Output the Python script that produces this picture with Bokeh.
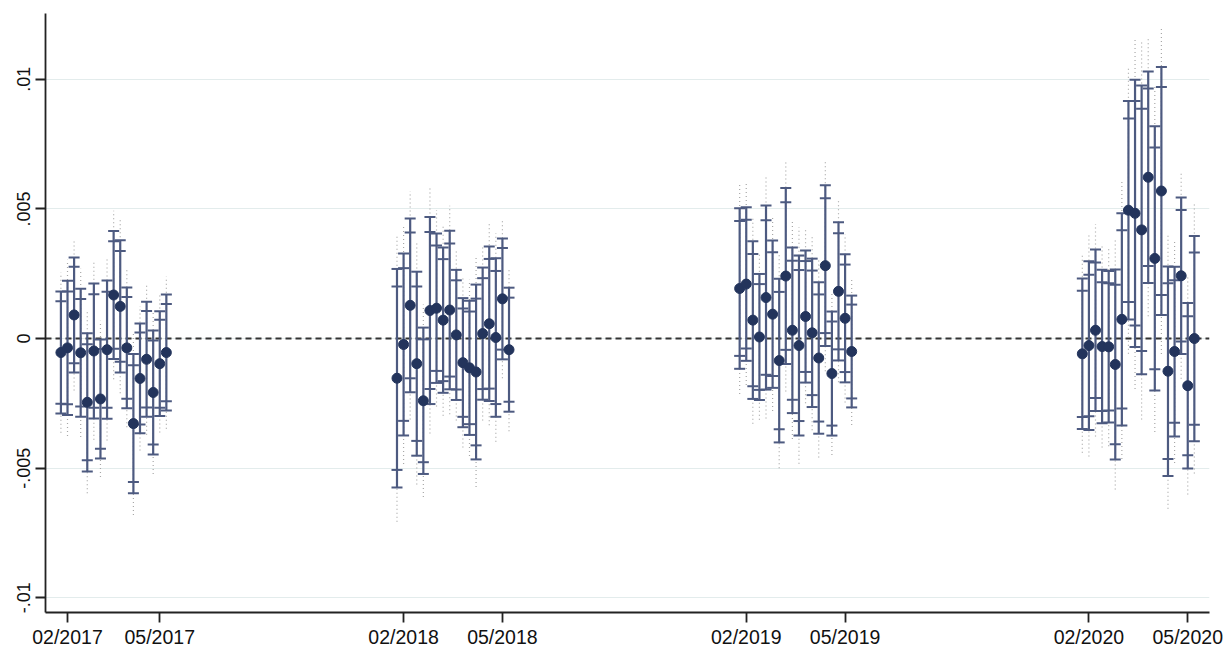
from bokeh.plotting import figure
from bokeh.models import ColumnDataSource, FixedTicker, Span, Range1d
from bokeh.embed import file_html
from bokeh.resources import INLINE

# ---------------- data ----------------
# x = week index counted from 2017 (52 weeks per year): (year-2017)*52 + week-of-year
years = [2017, 2018, 2019, 2020]
weeks_2017 = [5, 6, 7, 8, 9, 10, 11, 12, 13, 14, 15, 16, 17, 18, 19, 20, 21]
weeks_2018 = [4, 5, 6, 7, 8, 9, 10, 11, 12, 13, 14, 15, 16, 17, 18, 19, 20, 21]
weeks_2019 = [4, 5, 6, 7, 8, 9, 10, 11, 12, 13, 14, 15, 16, 17, 18, 19, 20, 21]
weeks_2020 = [4, 5, 6, 7, 8, 9, 10, 11, 12, 13, 14, 15, 16, 17, 18, 19, 20, 21]

coef_2017 = [-0.00054, -0.00036, 0.00091, -0.00055, -0.00246, -0.00048, -0.00233, -0.00043, 0.00168,
             0.00124, -0.00036, -0.00328, -0.00154, -0.00080, -0.00208, -0.00097, -0.00054]
se_2017 = [0.00120, 0.00132, 0.00113, 0.00126, 0.00136, 0.00133, 0.00117, 0.00136, 0.00126,
           0.00130, 0.00119, 0.00137, 0.00108, 0.00113, 0.00122, 0.00103, 0.00114]

coef_2018 = [-0.00153, -0.00023, 0.00128, -0.00097, -0.00240, 0.00108, 0.00117, 0.00071, 0.00110,
             0.00014, -0.00093, -0.00113, -0.00129, 0.00019, 0.00057, 0.00004, 0.00153, -0.00043]
se_2018 = [0.00215, 0.00179, 0.00171, 0.00181, 0.00144, 0.00184, 0.00147, 0.00143, 0.00156,
           0.00128, 0.00127, 0.00132, 0.00172, 0.00130, 0.00152, 0.00156, 0.00119, 0.00122]

coef_2019 = [0.00193, 0.00210, 0.00071, 0.00006, 0.00158, 0.00094, -0.00085, 0.00241, 0.00032,
             -0.00027, 0.00085, 0.00022, -0.00075, 0.00281, -0.00135, 0.00182, 0.00078, -0.00050]
se_2019 = [0.00158, 0.00151, 0.00155, 0.00124, 0.00181, 0.00145, 0.00161, 0.00173, 0.00163,
           0.00177, 0.00130, 0.00146, 0.00149, 0.00158, 0.00122, 0.00136, 0.00126, 0.00110]

coef_2020 = [-0.00059, -0.00027, 0.00032, -0.00031, -0.00032, -0.00100, 0.00074, 0.00495, 0.00483,
             0.00419, 0.00622, 0.00309, 0.00569, -0.00126, -0.00050, 0.00242, -0.00182, 0.00000]
se_2020 = [0.00148, 0.00166, 0.00159, 0.00151, 0.00149, 0.00187, 0.00209, 0.00215, 0.00263,
           0.00284, 0.00208, 0.00260, 0.00244, 0.00206, 0.00167, 0.00154, 0.00163, 0.00202]

x_tick_weeks = [6, 20, 57, 72, 109, 124, 161, 176]
x_tick_labels = ["02/2017", "05/2017", "02/2018", "05/2018", "02/2019", "05/2019", "02/2020", "05/2020"]
y_ticks = [-0.01, -0.005, 0.0, 0.005, 0.01]
y_tick_labels = ["-.01", "-.005", "0", ".005", ".01"]

# confidence levels: 90% and 95% capped, 99% dotted
z90, z95, z99 = 1.645, 1.96, 2.576

# ---------------- build source ----------------
xs, cs, ss = [], [], []
for yr, wk, cf, se in zip(years,
                          [weeks_2017, weeks_2018, weeks_2019, weeks_2020],
                          [coef_2017, coef_2018, coef_2019, coef_2020],
                          [se_2017, se_2018, se_2019, se_2020]):
    for w, c, s in zip(wk, cf, se):
        xs.append((yr - 2017) * 52 + w)
        cs.append(c)
        ss.append(s)

src = ColumnDataSource(dict(
    x=xs, b=cs,
    lo90=[c - z90 * s for c, s in zip(cs, ss)], hi90=[c + z90 * s for c, s in zip(cs, ss)],
    lo95=[c - z95 * s for c, s in zip(cs, ss)], hi95=[c + z95 * s for c, s in zip(cs, ss)],
    lo99=[c - z99 * s for c, s in zip(cs, ss)], hi99=[c + z99 * s for c, s in zip(cs, ss)],
))

# ---------------- figure ----------------
FONT = "Liberation Sans"
p = figure(width=1223, height=650, output_backend="svg", toolbar_location=None,
           x_range=Range1d(2.66, 179.3), y_range=Range1d(-0.010565, 0.012535),
           min_border_left=45, min_border_top=13, min_border_right=14, min_border_bottom=36)
p.outline_line_color = None
p.background_fill_color = "white"
p.border_fill_color = "white"

p.xgrid.visible = False
p.ygrid.grid_line_color = "#e3ecec"
p.ygrid.grid_line_width = 1.2

for ax in (p.xaxis, p.yaxis):
    ax.axis_line_color = "#222222"
    ax.axis_line_width = 1.8
    ax.major_tick_line_color = "#222222"
    ax.major_tick_line_width = 1.8
    ax.major_tick_out = 10
    ax.major_tick_in = 0
    ax.minor_tick_line_color = None
    ax.major_label_text_font = FONT
    ax.major_label_text_color = "#111111"

p.xaxis.ticker = FixedTicker(ticks=x_tick_weeks)
p.xaxis.major_label_overrides = {t: l for t, l in zip(x_tick_weeks, x_tick_labels)}
p.xaxis.major_label_text_font_size = "19.5px"
p.xaxis.major_label_standoff = 3

p.yaxis.ticker = FixedTicker(ticks=y_ticks)
p.yaxis.major_label_overrides = {t: l for t, l in zip(y_ticks, y_tick_labels)}
p.yaxis.major_label_orientation = "vertical"
p.yaxis.major_label_text_font_size = "18px"
p.yaxis.major_label_standoff = 5

zero = Span(location=0, dimension="width", line_color="#333333", line_width=2,
            line_dash="6 4", level="underlay")
p.add_layout(zero)

BAR = "#4d5a80"
DOT = "#23345c"

# 99% dotted
p.segment(x0="x", y0="lo99", x1="x", y1="hi99", source=src,
          line_color="#a8a8a8", line_width=1.2, line_dash="1 3")
# 95% line
p.segment(x0="x", y0="lo95", x1="x", y1="hi95", source=src, line_color=BAR, line_width=2.2)
# caps
for col in ("lo90", "hi90", "lo95", "hi95"):
    p.scatter(x="x", y=col, source=src, marker="dash", size=11, line_color=BAR, line_width=2)
# estimates
p.scatter(x="x", y="b", source=src, marker="circle", size=10, fill_color=DOT, line_color=DOT)

open("out.html", "w").write(file_html(p, INLINE))
